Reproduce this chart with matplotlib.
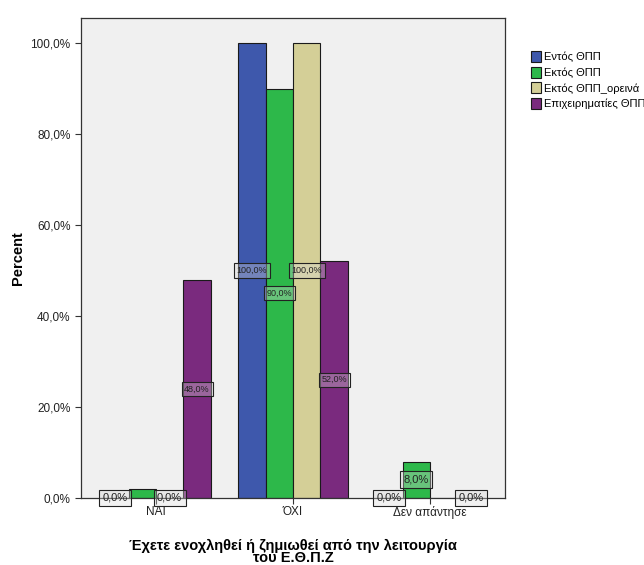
import matplotlib
matplotlib.use("Agg")
import matplotlib.pyplot as plt
import numpy as np

categories = ["ΝΑΙ", "ΌΧΙ", "Δεν απάντησε"]
series_names = ["Εντός ΘΠΠ", "Εκτός ΘΠΠ", "Εκτός ΘΠΠ_ορεινά", "Επιχειρηματίες ΘΠΠ"]
values = [
    [0.0, 100.0, 0.0],
    [2.0, 90.0, 8.0],
    [0.0, 100.0, 0.0],
    [48.0, 52.0, 0.0],
]
# which bars carry a value label (as in the reference)
show_label = [
    [True, True, True],
    [False, True, True],
    [True, True, False],
    [True, True, True],
]
colors = ["#3e58ac", "#2db84a", "#d4cf97", "#7a2a7e"]

plt.rcParams['font.family'] = ['Liberation Sans', 'DejaVu Sans']
fig = plt.figure(figsize=(6.44, 5.65), dpi=100)
ax = fig.add_axes([0.1258, 0.1186, 0.784 - 0.1258, 0.968 - 0.1186])
ax.set_facecolor("#f0f0f0")

x = np.arange(len(categories))
w = 0.2
for i, (name, vals) in enumerate(zip(series_names, values)):
    pos = x + (i - 1.5) * w
    ax.bar(pos, vals, width=w, color=colors[i], edgecolor="#1a1a1a", linewidth=0.8,
           label=name, zorder=2)
    for p, v, s in zip(pos, vals, show_label[i]):
        if s:
            ax.text(p, v / 2, f"{v:.1f}%".replace(".", ","), ha="center", va="center",
                    fontsize=8 if v < 10 else 6.5, color="#222222", zorder=4,
                    bbox=dict(boxstyle="square,pad=0.3", facecolor=(0.85, 0.85, 0.85, 0.35),
                              edgecolor="#222222", linewidth=0.8))

ax.set_xlim(-0.547, 2.547)
ax.set_ylim(0, 105.5)
yt = [0, 20, 40, 60, 80, 100]
ax.set_yticks(yt)
ax.set_yticklabels([f"{t:.1f}%".replace(".", ",") for t in yt], fontsize=8.5, color="#222222")
ax.set_xticks(x)
ax.set_xticklabels(categories, fontsize=8.5, color="#222222")
ax.tick_params(axis="both", direction="out", length=4, width=0.8, color="#333333")
ax.tick_params(axis="x", pad=2)
for s in ax.spines.values():
    s.set_color("#333333")
    s.set_linewidth(0.9)

ax.set_ylabel("Percent", fontsize=10.5, fontweight="bold", labelpad=4)
ax.set_xlabel("Έχετε ενοχληθεί ή ζημιωθεί από την λειτουργία\nτου Ε.Θ.Π.Ζ", fontsize=10.5,
              fontweight="bold", labelpad=14, linespacing=0.85)

leg = ax.legend(loc="upper left", bbox_to_anchor=(1.05, 0.94), frameon=False, fontsize=8,
                handlelength=0.9, handleheight=1.1, handletextpad=0.3, labelspacing=0.4,
                borderaxespad=0)
for h in leg.legend_handles:
    h.set_edgecolor("#1a1a1a")

fig.savefig("out.png", dpi=100)
